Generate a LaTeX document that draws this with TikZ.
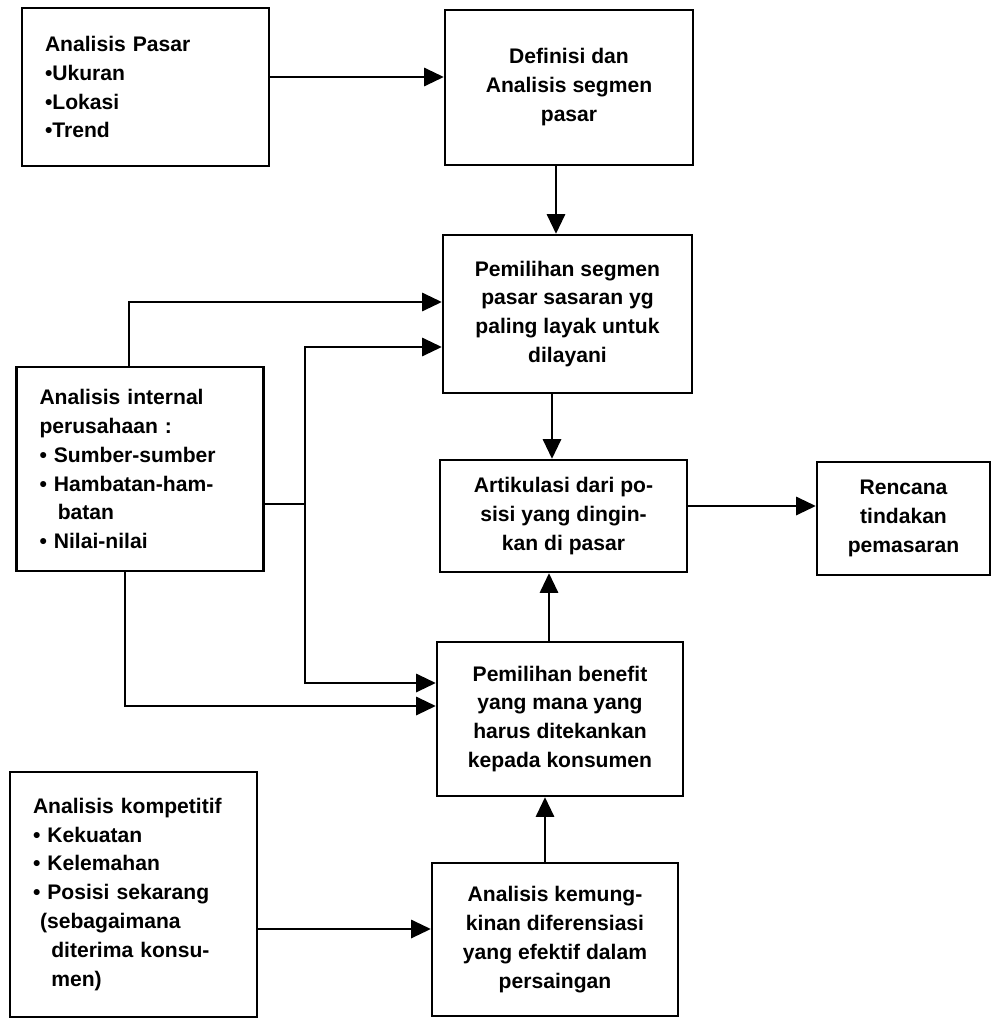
\documentclass[tikz,border=0pt]{standalone}
\usepackage{fontspec}
\newfontfamily\lblfont{Liberation Sans}
\usetikzlibrary{arrows.meta}

\begin{document}
\begin{tikzpicture}[x=0.025cm,y=-0.025cm,
    box/.style={draw,line width=1.7pt,align=center,inner sep=2pt,
        font=\lblfont\bfseries\fontsize{15pt}{20.6pt}\selectfont},
    sidebox/.style={box,align=left,text width=201*0.025cm,inner xsep=23*0.025cm},
    arr/.style={line width=1.5pt,-{Triangle[length=14pt,width=13pt]}},
    line/.style={line width=1.5pt}]
        \useasboundingbox (0,0) rectangle (993,1019);
        \node[sidebox,minimum height=158*0.025cm] (pasar) at (145.5,87)
            {Analisis Pasar\\•Ukuran\\•Lokasi\\•Trend};
        \node[box,minimum width=248*0.025cm,minimum height=155*0.025cm] (segmen) at (569,87.5)
            {Definisi dan\\Analisis segmen\\pasar};
        \node[box,minimum width=249*0.025cm,minimum height=158*0.025cm] (sasaran) at (567.5,314)
            {Pemilihan segmen\\pasar sasaran yg\\paling layak untuk\\dilayani};
        \node[sidebox,minimum height=204*0.025cm] (internal) at (140,469)
            {Analisis internal\\perusahaan :\\• Sumber-sumber\\• Hambatan-ham-\\\hspace*{13pt}batan\\• Nilai-nilai};
        \node[box,minimum width=247*0.025cm,minimum height=112*0.025cm] (posisi) at (563.5,516)
            {Artikulasi dari po-\\sisi yang dingin-\\kan di pasar};
        \node[box,minimum width=173*0.025cm,minimum height=113*0.025cm] (rencana) at (903.5,518.5)
            {Rencana\\tindakan\\pemasaran};
        \node[box,minimum width=246*0.025cm,minimum height=154*0.025cm] (benefit) at (560,719)
            {Pemilihan benefit\\yang mana yang\\harus ditekankan\\kepada konsumen};
        \node[box,minimum width=246*0.025cm,minimum height=153*0.025cm] (diferensiasi) at (555,939.5)
            {Analisis kemung-\\kinan diferensiasi\\yang efektif dalam\\persaingan};
        \node[sidebox,minimum height=245*0.025cm] (kompetitif) at (133.5,894.5)
            {Analisis kompetitif\\• Kekuatan\\• Kelemahan\\• Posisi sekarang\\\hspace*{5pt}(sebagaimana\\\hspace*{13pt}diterima konsu-\\\hspace*{13pt}men)};

        \draw[arr] (pasar.east |- 0,77) -- (segmen.west |- 0,77);
        \draw[arr] (segmen.south -| 556,0) -- (sasaran.north -| 556,0);
        \draw[arr] (internal.north -| 129,0) |- (sasaran.west |- 0,302);
        \coordinate (cabang) at (305,504);
        \draw[line] (internal.east |- cabang) -- (cabang);
        \draw[arr] (cabang) |- (sasaran.west |- 0,347);
        \draw[arr] (cabang) |- (benefit.west |- 0,683);
        \draw[arr] (internal.south -| 125,0) |- (benefit.west |- 0,706);
        \draw[arr] (sasaran.south -| 552,0) -- (posisi.north -| 552,0);
        \draw[arr] (benefit.north -| 549,0) -- (posisi.south -| 549,0);
        \draw[arr] (diferensiasi.north -| 545,0) -- (benefit.south -| 545,0);
        \draw[arr] (posisi.east |- 0,506) -- (rencana.west |- 0,506);
        \draw[arr] (kompetitif.east |- 0,929) -- (diferensiasi.west |- 0,929);
    \end{tikzpicture}
\end{document}
